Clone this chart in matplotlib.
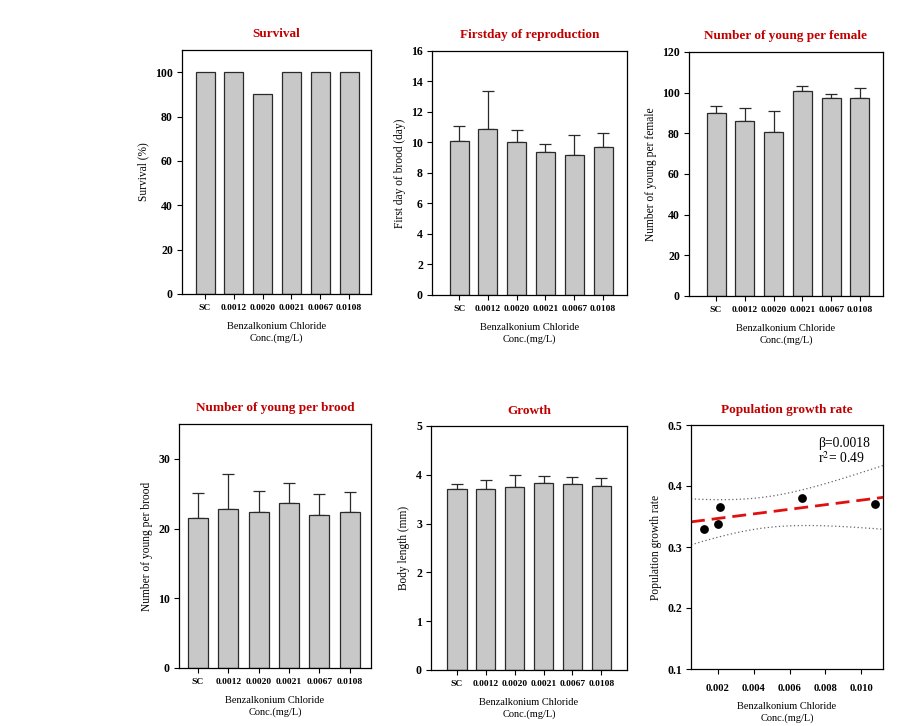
import numpy as np
import matplotlib
matplotlib.use("Agg")
import matplotlib.pyplot as plt

plt.rcParams['font.family'] = ['Liberation Serif', 'DejaVu Serif']
plt.rcParams['mathtext.fontset'] = 'stix'

categories = ["SC", "0.0012", "0.0020", "0.0021", "0.0067", "0.0108"]

survival = [100, 100, 90, 100, 100, 100]

firstday = [10.1, 10.9, 10.0, 9.4, 9.2, 9.7]
firstday_err = [1.0, 2.5, 0.85, 0.5, 1.3, 0.95]

young_female = [89.8, 86.0, 80.6, 100.7, 97.3, 97.4]
young_female_err = [3.8, 6.5, 10.3, 2.6, 1.9, 5.1]

young_brood = [21.55, 22.8, 22.35, 23.65, 21.95, 22.4]
young_brood_err = [3.6, 5.0, 3.1, 2.95, 3.05, 2.8]

growth = [3.70, 3.70, 3.74, 3.84, 3.82, 3.78]
growth_err = [0.12, 0.20, 0.25, 0.14, 0.13, 0.15]

pgr_conc = [0.0012, 0.0020, 0.0021, 0.0067, 0.0108]
pgr_rate = [0.330, 0.337, 0.365, 0.380, 0.370]

TITLE_COLOR = "#c00000"
BAR_COLOR = "#c8c8c8"
EDGE = "#2a2a2a"
W, H = 908, 726

fig = plt.figure(figsize=(W / 100, H / 100), dpi=100)


def make_ax(l, r, t, b):
    return fig.add_axes([l / W, 1 - b / H, (r - l) / W, (b - t) / H])


def style(ax, title, ylabel, xsize=6.8):
    ax.set_title(title, color=TITLE_COLOR, fontsize=9.5, fontweight='bold', pad=9)
    ax.set_ylabel(ylabel, fontsize=8.3)
    ax.set_xlabel("Benzalkonium Chloride\nConc.(mg/L)", fontsize=7.5, labelpad=7,
                  linespacing=1.25)
    ax.tick_params(direction='out', length=3.5, width=0.8, pad=4)
    ax.tick_params(axis='y', labelsize=8.5, pad=3)
    ax.tick_params(axis='x', labelsize=xsize)
    for lab in ax.get_xticklabels() + ax.get_yticklabels():
        lab.set_fontweight('bold')
    for s in ax.spines.values():
        s.set_linewidth(0.9)


def bar_panel(rect, vals, errs, title, ylabel, ylim, yticks, xlim):
    ax = make_ax(*rect)
    x = np.arange(len(categories))
    ax.bar(x, vals, width=0.66, color=BAR_COLOR, edgecolor=EDGE, linewidth=0.9, zorder=2)
    if errs is not None:
        ax.errorbar(x, vals, yerr=[np.zeros(len(errs)), errs], fmt='none',
                    ecolor=EDGE, elinewidth=0.9, capsize=4, capthick=0.9, zorder=1)
    ax.set_xticks(x)
    ax.set_xticklabels(categories)
    ax.set_xlim(*xlim)
    ax.set_ylim(*ylim)
    ax.set_yticks(yticks)
    style(ax, title, ylabel)
    return ax


bar_panel((182, 371, 50, 294), survival, None, "Survival", "Survival (%)",
          (0, 110), np.arange(0, 101, 20), (-0.8, 5.76))
bar_panel((432, 627, 51, 295), firstday, firstday_err, "Firstday of reproduction",
          "First day of brood (day)", (0, 16), np.arange(0, 17, 2), (-0.94, 5.83))
bar_panel((689, 883, 52, 296), young_female, young_female_err, "Number of young per female",
          "Number of young per female", (0, 120), np.arange(0, 121, 20), (-0.94, 5.8))
bar_panel((179, 371, 424, 668), young_brood, young_brood_err, "Number of young per brood",
          "Number of young per brood", (0, 35), np.arange(0, 31, 10), (-0.62, 5.7))
bar_panel((431, 627, 426, 670), growth, growth_err, "Growth",
          "Body length (mm)", (0, 5), np.arange(0, 6, 1), (-0.9, 5.89))

# Population growth rate regression panel
ax = make_ax(691, 883, 425, 669)
xs = np.array(pgr_conc)
ys = np.array(pgr_rate)
xlim = (0.0005, 0.01122)
slope, intercept = np.polyfit(xs, ys, 1)
xx = np.linspace(xlim[0], xlim[1], 200)
yy = intercept + slope * xx
n = len(xs)
resid = ys - (intercept + slope * xs)
s = np.sqrt(np.sum(resid ** 2) / (n - 2))
sxx = np.sum((xs - xs.mean()) ** 2)
t = 3.182
hw = t * s * np.sqrt(1 / n + (xx - xs.mean()) ** 2 / sxx)
ax.plot(xx, yy + hw, color='#666666', linestyle=(0, (1, 2)), linewidth=0.9)
ax.plot(xx, yy - hw, color='#666666', linestyle=(0, (1, 2)), linewidth=0.9)
ax.plot(xx, yy, color='#e01010', linestyle=(0, (5, 2.5)), linewidth=2.0)
ax.scatter(xs, ys, s=28, color='black', zorder=3)
ax.set_xlim(*xlim)
ax.set_ylim(0.1, 0.5)
ax.set_xticks([0.002, 0.004, 0.006, 0.008, 0.010])
ax.set_xticklabels(["0.002", "0.004", "0.006", "0.008", "0.010"])
ax.set_yticks([0.1, 0.2, 0.3, 0.4, 0.5])
ax.set_yticklabels(["0.1", "0.2", "0.3", "0.4", "0.5"])
ax.text(0.66, 0.95, "β=0.0018", transform=ax.transAxes, fontsize=9.8, va='top')
ax.text(0.66, 0.897, "r$^2$= 0.49", transform=ax.transAxes, fontsize=9.8, va='top')
style(ax, "Population growth rate", "Population growth rate", xsize=7.6)
ax.tick_params(axis='x', pad=7)

fig.savefig("out.png", dpi=100, facecolor='white')
